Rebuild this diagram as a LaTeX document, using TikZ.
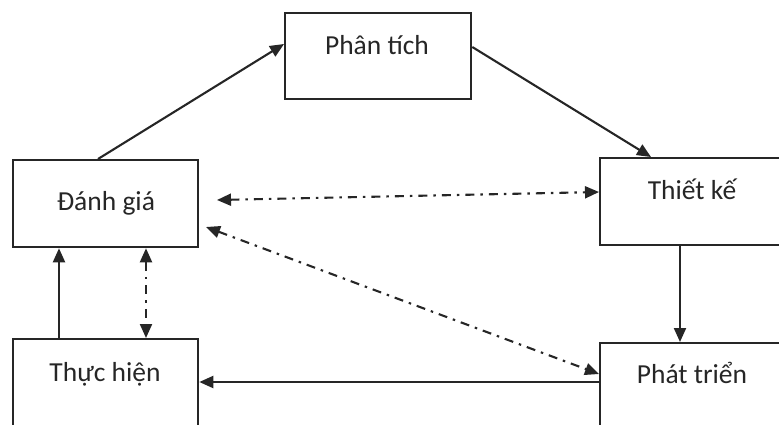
\documentclass[tikz,border=0pt]{standalone}
\usepackage{fontspec}
\setmainfont{Carlito}
\usetikzlibrary{arrows.meta}
\begin{document}
\begin{tikzpicture}[x=1pt,y=-1pt,
  box/.style={draw=black!85, line width=2.3pt, inner sep=0pt, anchor=north west},
  lbl/.style={anchor=base, font=\fontsize{27.5}{31}\selectfont, text=black!85, inner sep=0pt},
  conn/.style={line width=2.1pt, draw=black!85, -{Triangle[length=14pt,width=12pt]}},
  dd/.style={line width=2.1pt, draw=black!85, {Triangle[length=14pt,width=12pt]}-{Triangle[length=14pt,width=12pt]}, dash pattern=on 9pt off 6pt on 2.5pt off 6pt}
]
\useasboundingbox (0,0) rectangle (779,424);
\clip (0,0) rectangle (779,424);
% boxes
\node[box, minimum width=186pt, minimum height=86pt] (pt) at (284,12) {};
\node[box, minimum width=185pt, minimum height=87pt] (dg) at (12,159) {};
\node[box, minimum width=195pt, minimum height=87pt] (tk) at (599,157) {};
\node[box, minimum width=195pt, minimum height=95pt] (ph) at (599,342) {};
\node[box, minimum width=185pt, minimum height=95pt] (th) at (12,338) {};
% labels
\node[lbl] (ptl) at (377,54) {Phân tích};
\node[lbl] (dgl) at (106,210) {Đánh giá};
\node[lbl] (tkl) at (692,199) {Thiết kế};
\node[lbl] (phl) at (692,383) {Phát triển};
\node[lbl] (thl) at (105,381) {Thực hiện};
% solid connectors
\draw[conn] (dg.north west)++(86,0) coordinate (a1) (a1) -- (pt.west |- 0,44);
\draw[conn] (pt.east |- 0,47) -- (tk.north west -| 651,0);
\draw[conn] (tk.south west -| 680,0) -- (ph.north west -| 680,0);
\draw[conn] (ph.west |- 0,382) -- (th.east |- 0,382);
\draw[conn] (th.north west -| 59,0) -- (dg.south west -| 59,0);
% dash-dot connectors
\draw[dd] (dg.south west -| 146,0) -- (th.north west -| 146,0);
\draw[dd] (217,200) -- (tk.west |- 0,192);
\draw[dd] (206,227) -- (ph.west |- 0,374);
\end{tikzpicture}
\end{document}
